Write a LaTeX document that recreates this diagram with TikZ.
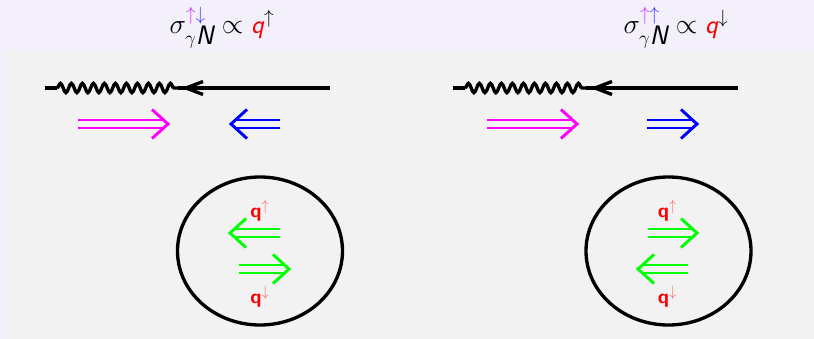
\documentclass[tikz,border=0pt]{standalone}
\usepackage{xcolor}
\usetikzlibrary{decorations.pathmorphing}
\definecolor{lav}{RGB}{244,240,251}
\definecolor{panel}{RGB}{242,242,242}
\definecolor{vio}{RGB}{200,60,255}
\definecolor{blu}{RGB}{60,60,255}
\definecolor{lightred}{RGB}{255,100,100}
\definecolor{mag}{RGB}{255,0,255}
\definecolor{grn}{RGB}{0,255,0}
\newcommand{\rdbl}[4]{%
  \draw[dbl,#1] (#2,#4-4) -- (#3-5,#4-4);
  \draw[dbl,#1] (#2,#4+4) -- (#3-5,#4+4);
  \draw[dbl,#1] (#3-16,#4-14.5) -- (#3,#4) -- (#3-16,#4+14.5);}
\newcommand{\ldbl}[4]{%
  \draw[dbl,#1] (#2,#4-4) -- (#3+5,#4-4);
  \draw[dbl,#1] (#2,#4+4) -- (#3+5,#4+4);
  \draw[dbl,#1] (#3+16,#4-14.5) -- (#3,#4) -- (#3+16,#4+14.5);}
\begin{document}
\begin{tikzpicture}[x=0.75pt,y=-0.75pt,
  dbl/.style={line width=2.2pt,line cap=butt,line join=miter},
  blk/.style={line width=2.5pt,black},
  wavy/.style={blk,decorate,decoration={snake,segment length=8.25pt,amplitude=3.5pt}},
  head/.style={blk,line join=miter},
  ell/.style={line width=2.5pt,black},
  title/.style={font=\fontsize{20}{24}\selectfont,inner sep=0pt},
  qlab/.style={font=\fontsize{15}{17}\selectfont\sffamily\bfseries,text=red,inner sep=0pt}]
\useasboundingbox (0,0) rectangle (814,339);
\fill[lav] (0,0) rectangle (814,339);
\fill[panel] (5,51) rectangle (814,339);
% titles
\node[title] (t1) at (222,28) {$\sigma^{\textcolor{vio}{\uparrow}\textcolor{blu}{\downarrow}}_{\gamma\textsf{\itshape N}} \propto \textcolor{red}{\textsf{\itshape q}}^{\uparrow}$};
\node[title] (t2) at (676,28) {$\sigma^{\textcolor{vio}{\uparrow}\textcolor{blu}{\uparrow}}_{\gamma\textsf{\itshape N}} \propto \textcolor{red}{\textsf{\itshape q}}^{\downarrow}$};
% left photon + quark line
\coordinate (a1) at (45,88); \coordinate (a2) at (57,88);
\coordinate (a3) at (178,88); \coordinate (a4) at (186,88); \coordinate (a5) at (330,88);
\draw[blk] (a1) -- (a2);
\draw[wavy] (a2) -- (a3);
\draw[blk] (a3) -- (a5);
\draw[head] (203,81.5) -- (a4) -- (203,94.5);
% right photon + quark line
\coordinate (b1) at (453,88); \coordinate (b2) at (465,88);
\coordinate (b3) at (586,88); \coordinate (b4) at (595,88); \coordinate (b5) at (738,88);
\draw[blk] (b1) -- (b2);
\draw[wavy] (b2) -- (b3);
\draw[blk] (b3) -- (b5);
\draw[head] (612,81.5) -- (b4) -- (612,94.5);
% spin arrows
\rdbl{mag}{78}{168}{124}
\ldbl{blue}{280}{231}{124}
\rdbl{mag}{487}{577}{124}
\rdbl{blue}{647}{697}{124}
% nucleons
\draw[ell] (260,251) ellipse [x radius=82.5, y radius=74];
\draw[ell] (668.5,251) ellipse [x radius=82.5, y radius=74];
% left nucleon content
\node[qlab] (q1) at (256,211) {q\rlap{$^{\textcolor{lightred}{\uparrow}}$}};
\ldbl{grn}{280}{230}{233}
\rdbl{grn}{239}{289}{269}
\node[qlab] (q2) at (256,297) {q\rlap{$^{\textcolor{lightred}{\downarrow}}$}};
% right nucleon content
\node[qlab] (q3) at (663.5,211) {q\rlap{$^{\textcolor{lightred}{\uparrow}}$}};
\rdbl{grn}{648}{697}{233}
\ldbl{grn}{688}{638}{269}
\node[qlab] (q4) at (663.5,297) {q\rlap{$^{\textcolor{lightred}{\downarrow}}$}};
\end{tikzpicture}
\end{document}
